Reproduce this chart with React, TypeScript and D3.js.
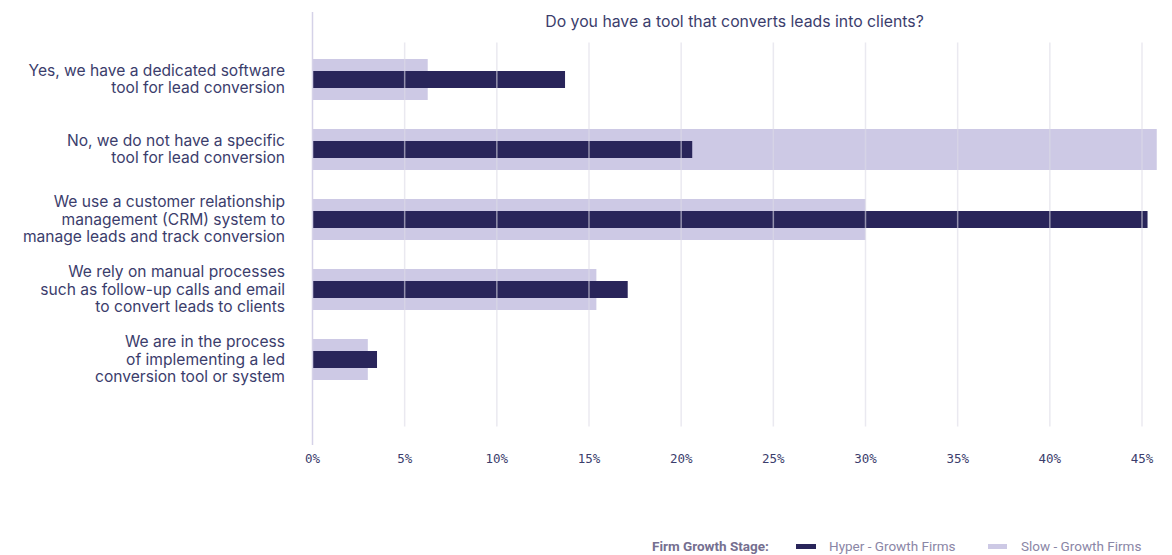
import React from "react";
import * as d3 from "d3";

const categories: string[][] = [
  ["Yes, we have a dedicated software", "tool for lead conversion"],
  ["No, we do not have a specific", "tool for lead conversion"],
  ["We use a customer relationship", "management (CRM) system to", "manage leads and track conversion"],
  ["We rely on manual processes", "such as follow-up calls and email", "to convert leads to clients"],
  ["We are in the process", "of implementing a led", "conversion tool or system"],
];
const hyperValues = [13.7, 20.6, 45.3, 17.1, 3.5];
const slowValues = [6.25, 45.8, 30.0, 15.4, 3.0];
const ticks = [0, 5, 10, 15, 20, 25, 30, 35, 40, 45];
const title = "Do you have a tool that converts leads into clients?";
const seriesNames = ["Hyper - Growth Firms", "Slow - Growth Firms"];
const legendTitle = "Firm Growth Stage:";

const W = 1172;
const H = 555;
const DARK = "#29255a";
const LIGHT = "#cdc9e5";
const GRID = "#dcdae6";
const TEXT = "#3b3d6c";
const FONT = "Inter, Roboto, 'Noto Sans', sans-serif";
const LFONT = "Roboto, 'Noto Sans', sans-serif";
const MONO = "'DejaVu Sans Mono', 'Liberation Mono', monospace";

export default function App() {
  const x = d3.scaleLinear().domain([0, 45]).range([312.5, 1142]);
  const keys = categories.map((_, i) => String(i));
  const y = d3
    .scaleBand<string>()
    .domain(keys)
    .range([44.5, 394.5])
    .paddingInner(29 / 70)
    .paddingOuter(29 / 140);
  const bw = y.bandwidth();
  const hyperH = 17;
  const lineH = 17.3;

  return (
    <svg
      width={W}
      height={H}
      style={{ position: "absolute", left: 0, top: 0, background: "#fff" }}
    >
      <text
        x={734.5}
        y={26.5}
        textAnchor="middle"
        fontFamily={FONT}
        fontSize={15.8}
        fill={TEXT}
      >
        {title}
      </text>

      {slowValues.map((v, i) => (
        <rect
          key={"s" + i}
          x={x(0)}
          y={y(String(i))!}
          width={x(v) - x(0)}
          height={bw}
          fill={LIGHT}
        />
      ))}
      {hyperValues.map((v, i) => (
        <rect
          key={"h" + i}
          x={x(0)}
          y={y(String(i))! + bw / 2 - hyperH / 2}
          width={x(v) - x(0)}
          height={hyperH}
          fill={DARK}
        />
      ))}

      {ticks
        .filter((t) => t > 0)
        .map((t) => (
          <line
            key={"g" + t}
            x1={x(t)}
            x2={x(t)}
            y1={42.5}
            y2={426.5}
            stroke={GRID}
            strokeOpacity={0.6}
            strokeWidth={1.5}
          />
        ))}
      <line
        x1={x(0)}
        x2={x(0)}
        y1={12}
        y2={445}
        stroke="#d5d2e8"
        strokeWidth={1.5}
      />

      {ticks.map((t) => (
        <text
          key={"t" + t}
          x={x(t)}
          y={463}
          textAnchor="middle"
          fontFamily={MONO}
          fontSize={12.5}
          fill={TEXT}
        >
          {t + "%"}
        </text>
      ))}

      {categories.map((lines, i) => {
        const cy = y(String(i))! + bw / 2;
        const n = lines.length;
        return (
          <text
            key={"c" + i}
            x={285}
            textAnchor="end"
            fontFamily={FONT}
            fontSize={15.6}
            fill={TEXT}
          >
            {lines.map((l, j) => (
              <tspan key={j} x={285} y={cy + (j - (n - 1) / 2) * lineH + 5}>
                {l}
              </tspan>
            ))}
          </text>
        );
      })}

      <g fontFamily={LFONT} fontSize={13.5}>
        <text x={652} y={550.5} fill="#756f90" fontWeight="bold">
          {legendTitle}
        </text>
        <rect x={796} y={544} width={20} height={5} fill={DARK} />
        <text x={829} y={550.5} fill="#8a86a6">
          {seriesNames[0]}
        </text>
        <rect x={988} y={544} width={19} height={5} fill={LIGHT} />
        <text x={1021} y={550.5} fill="#8a86a6">
          {seriesNames[1]}
        </text>
      </g>
    </svg>
  );
}
